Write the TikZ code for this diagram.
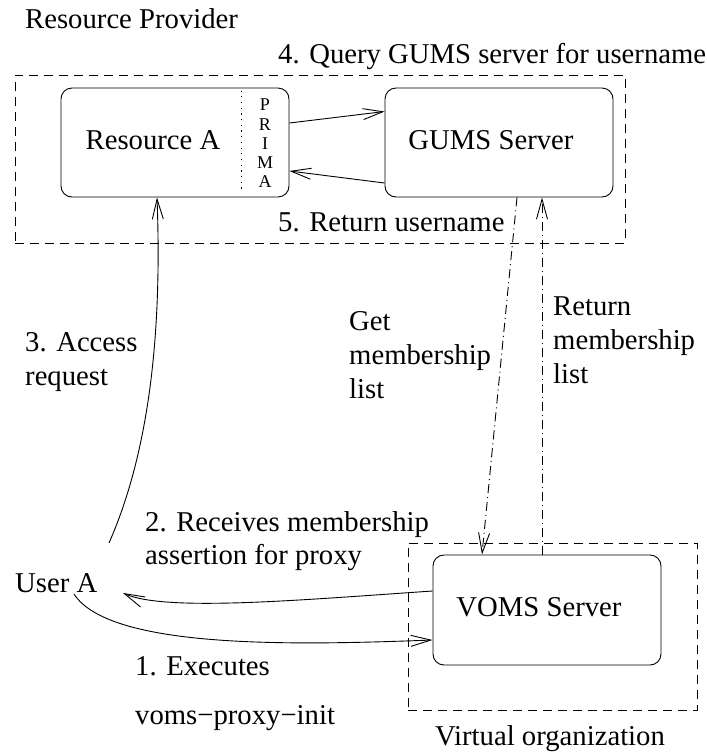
\documentclass[tikz,border=0pt]{standalone}
\usepackage{fontspec}
\setmainfont{Liberation Serif}
\usetikzlibrary{arrows.meta,calc}
\tikzset{
  box/.style={draw,rounded corners=11pt,minimum width=228pt,minimum height=109pt,inner sep=0pt,line width=0.9pt},
  group/.style={draw,dash pattern=on 9pt off 6pt,inner sep=0pt,line width=0.9pt},
  lbl/.style={inner sep=0pt,anchor=base west,font=\fontsize{28.7}{33}\selectfont},
  ctr/.style={inner sep=0pt,font=\fontsize{28.7}{33}\selectfont},
  conn/.style={line width=0.9pt,-{Straight Barb[length=20pt,width=11pt]}},
  dashdot/.style={dash pattern=on 9pt off 4pt on 1pt off 4pt},
}
\begin{document}
\begin{tikzpicture}[x=1pt,y=-1pt]
\useasboundingbox (0,0) rectangle (707,753);
% groups
\node[group,minimum width=610pt,minimum height=168pt] (rp) at (320,159) {};
\node[group,minimum width=289pt,minimum height=167pt] (vo) at (552.5,626.5) {};
% boxes
\node[box] (resA) at (175,142.5) {};
\node[box] (gums) at (499,142.5) {};
\node[box,minimum height=110pt] (voms) at (547,610) {};
\draw[line width=0.9pt,dash pattern=on 1.2pt off 4.5pt] ($(resA.north)+(66,3)$) -- ($(resA.south)+(66,-5)$);
\node[ctr] (resAtxt) at (153,140) {Resource A};
\node[inner sep=0pt,align=center,font=\fontsize{18}{19.2}\selectfont] (prima) at (265,143.5) {P\\R\\I\\M\\A};
\node[ctr] (gumstxt) at (491,140) {GUMS Server};
\node[ctr] (vomstxt) at (539,607) {VOMS Server};
% labels
\node[lbl] (rplbl) at (25,28) {Resource Provider};
\node[lbl] (q4) at (278,63) {4. Query GUMS server for username};
\node[lbl] (r5) at (278,231) {5. Return username};
\node[lbl] (get1) at (349,330) {Get};
\node[lbl] (get2) at (349,364) {membership};
\node[lbl] (get3) at (349,398) {list};
\node[lbl] (ret1) at (553,315) {Return};
\node[lbl] (ret2) at (553,349) {membership};
\node[lbl] (ret3) at (553,383) {list};
\node[lbl] (acc1) at (25,351) {3. Access};
\node[lbl] (acc2) at (25,385) {request};
\node[lbl] (rec1) at (145,531) {2. Receives membership};
\node[lbl] (rec2) at (145,564) {assertion for proxy};
\node[lbl] (userA) at (15,592) {User A};
\node[lbl] (ex1) at (135,675) {1. Executes};
\node[lbl] (ex2) at (135,724) {voms−proxy−init};
\node[lbl] (volbl) at (435,745) {Virtual organization};
% free ends at User A
\coordinate (uaTop) at (109,543);
\coordinate (uaIn) at (123,593);
\coordinate (uaOut) at (74,594);
% connectors
\draw[conn] ($(resA.east)+(0,-19.5)$) -- ($(gums.west)+(0,-31)$);
\draw[conn] ($(gums.west)+(0,40.5)$) -- ($(resA.east)+(0,28.5)$);
\draw[conn,dashdot] ($(gums.south)+(18,0)$) -- ($(voms.north)+(-65,0)$);
\draw[conn,dashdot] ($(voms.north)+(-5,0)$) -- ($(gums.south)+(43,0)$);
\draw[conn] (uaTop) .. controls (150,450) and (162,330) .. ($(resA.south)+(-18,0)$);
\draw[conn] ($(voms.west)+(0,-19)$) .. controls (300,600) and (165,612) .. (uaIn);
\draw[conn] (uaOut) .. controls (110,650) and (300,645) .. ($(voms.west)+(0,30)$);
\end{tikzpicture}
\end{document}
